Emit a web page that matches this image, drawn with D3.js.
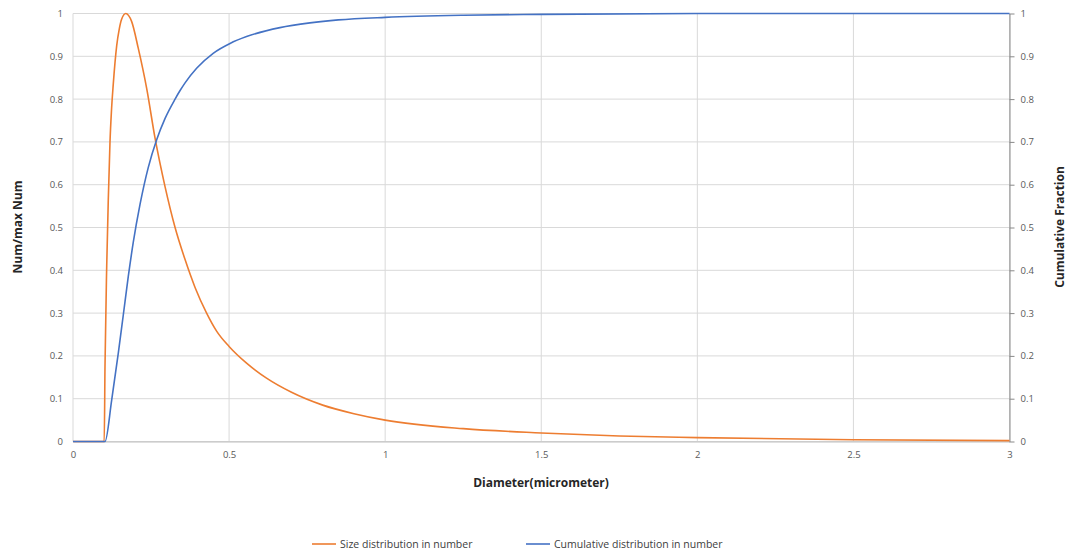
<!DOCTYPE html>
<html><head><meta charset="utf-8">
<script src="https://cdn.jsdelivr.net/npm/d3@7"></script>
<style>body{margin:0;background:#fff;}svg{display:block;font-family:"Open Sans",sans-serif;}</style>
</head><body><svg id="c" width="1068" height="554"></svg>
<script>
const xTicks = [0, 0.5, 1, 1.5, 2, 2.5, 3];
const yTicks = [0, 0.1, 0.2, 0.3, 0.4, 0.5, 0.6, 0.7, 0.8, 0.9, 1];
const sizeX = [0, 0.1, 0.1025, 0.108, 0.113, 0.1185, 0.123, 0.129, 0.14, 0.148, 0.156, 0.169, 0.188, 0.209, 0.236, 0.263, 0.295, 0.327, 0.359, 0.391, 0.428, 0.46, 0.5, 0.556, 0.62, 0.7, 0.8, 0.9, 1.0, 1.25, 1.5, 1.75, 2.0, 2.5, 3.0];
const sizeY = [0, 0, 0.175, 0.41, 0.564, 0.70, 0.77, 0.835, 0.925, 0.963, 0.987, 1.0, 0.981, 0.919, 0.825, 0.708, 0.595, 0.50, 0.425, 0.36, 0.30, 0.258, 0.222, 0.183, 0.148, 0.115, 0.085, 0.065, 0.05, 0.03, 0.02, 0.013, 0.009, 0.004, 0.002];
const cumX = [0, 0.1025, 0.124, 0.145, 0.161, 0.177, 0.193, 0.215, 0.241, 0.268, 0.295, 0.327, 0.343, 0.359, 0.396, 0.449, 0.503, 0.556, 0.663, 0.759, 0.85, 1.0, 1.25, 1.5, 2.0, 3.0];
const cumY = [0, 0, 0.097, 0.206, 0.295, 0.385, 0.465, 0.555, 0.640, 0.705, 0.755, 0.80, 0.82, 0.838, 0.872, 0.907, 0.93, 0.946, 0.967, 0.978, 0.985, 0.991, 0.996, 0.998, 1.0, 1.0];
const seriesNames = ["Size distribution in number", "Cumulative distribution in number"];
const colors = ["#ED7D31", "#4472C4"];

const svg = d3.select("#c");
const L = 73, R = 1009.5, T = 13.5, B = 441.5;
const x = d3.scaleLinear().domain([0, 3]).range([L, R]);
const yL = d3.scaleLinear().domain([0, 1]).range([B, T]);
const yR = d3.scaleLinear().domain([0, 1]).range([B, T]);

// gridlines
svg.append("g").selectAll("line").data(yTicks).join("line")
  .attr("x1", L).attr("x2", R).attr("y1", d => yL(d)).attr("y2", d => yL(d))
  .attr("stroke", "#d9d9d9").attr("stroke-width", 1);
svg.append("g").selectAll("line").data(xTicks).join("line")
  .attr("x1", d => x(d)).attr("x2", d => x(d)).attr("y1", T).attr("y2", B)
  .attr("stroke", "#d9d9d9").attr("stroke-width", 1);

const tickFont = "9.5px";
// bottom axis
const xa = svg.append("g").attr("transform", `translate(0,${B})`)
  .call(d3.axisBottom(x).tickValues(xTicks).tickSize(0).tickPadding(10).tickFormat(d3.format("")));
xa.select(".domain").attr("stroke", "#bfbfbf");
xa.selectAll("text").attr("fill", "#595959").style("font-size", tickFont).style("font-family", "Open Sans");

// left axis
const ya = svg.append("g").attr("transform", `translate(${L},0)`)
  .call(d3.axisLeft(yL).tickValues(yTicks).tickSize(0).tickPadding(10).tickFormat(d3.format("")));
ya.select(".domain").remove();
ya.selectAll("text").attr("fill", "#595959").style("font-size", tickFont).style("font-family", "Open Sans");

// right axis
const yr = svg.append("g").attr("transform", `translate(${R},0)`)
  .call(d3.axisRight(yR).tickValues(yTicks).tickSize(5).tickSizeOuter(0).tickPadding(6).tickFormat(d3.format("")));
yr.select(".domain").attr("stroke", "#898989");
yr.selectAll(".tick line").attr("stroke", "#898989");
yr.selectAll("text").attr("fill", "#595959").style("font-size", tickFont).style("font-family", "Open Sans");

// lines
const line = d3.line().x(d => x(d[0])).curve(d3.curveMonotoneX);
const sizeData = sizeX.map((v, i) => [v, sizeY[i]]);
const cumData = cumX.map((v, i) => [v, cumY[i]]);
svg.append("path").datum(sizeData).attr("fill", "none").attr("stroke", colors[0]).attr("stroke-width", 1.6)
  .attr("d", line.y(d => yL(d[1])));
svg.append("path").datum(cumData).attr("fill", "none").attr("stroke", colors[1]).attr("stroke-width", 1.6)
  .attr("d", line.y(d => yR(d[1])));

// titles
svg.append("text").attr("x", 541).attr("y", 487).attr("text-anchor", "middle")
  .attr("font-weight", "bold").attr("font-size", "12px").attr("fill", "#262626").text("Diameter(micrometer)");
svg.append("text").attr("transform", "translate(22,227) rotate(-90)").attr("text-anchor", "middle")
  .attr("font-weight", "bold").attr("font-size", "12px").attr("fill", "#262626").text("Num/max Num");
svg.append("text").attr("transform", "translate(1064,227) rotate(-90)").attr("text-anchor", "middle")
  .attr("font-weight", "bold").attr("font-size", "12px").attr("fill", "#262626").text("Cumulative Fraction");

// legend
const lg = svg.append("g");
const legX = [312, 526];
seriesNames.forEach((n, i) => {
  lg.append("line").attr("x1", legX[i]).attr("x2", legX[i] + 24).attr("y1", 544).attr("y2", 544)
    .attr("stroke", colors[i]).attr("stroke-width", 1.6);
  lg.append("text").attr("x", legX[i] + 28).attr("y", 548).attr("font-size", "10.5px").attr("fill", "#404040").text(n);
});
</script></body></html>
